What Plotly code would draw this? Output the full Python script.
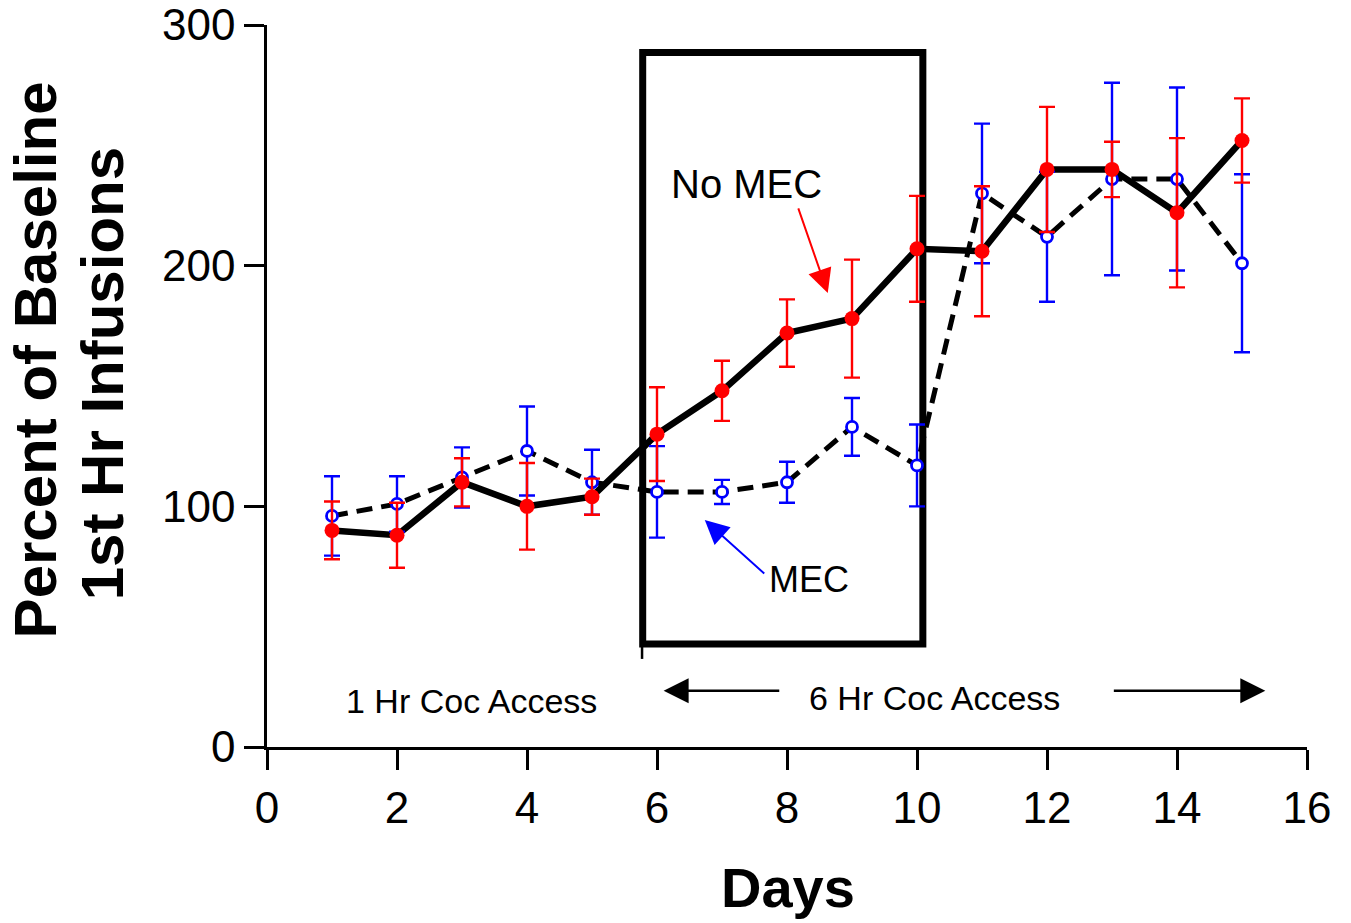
import plotly.graph_objects as go

days = list(range(1, 16))
no_mec = [90, 88, 110, 100, 104, 130, 148, 172, 178, 207, 206, 240, 240, 222, 252]
no_mec_err = [12, 13.5, 10, 18, 7.5, 19.5, 12.5, 14, 24.5, 22, 27, 26, 11.5, 31, 17.5]
mec = [96, 101, 112, 123, 110, 106, 106, 110, 133, 117, 230, 212, 236, 236, 201]
mec_err = [16.5, 11.5, 12.5, 18.5, 13.5, 19, 5, 8.5, 12, 17, 29, 27, 40, 38, 37]

x_ticks = [0, 2, 4, 6, 8, 10, 12, 14, 16]
y_ticks = [0, 100, 200, 300]

FONT = "Liberation Sans, Arial, Helvetica, sans-serif"

fig = go.Figure()

# black connecting lines
fig.add_trace(go.Scatter(x=days, y=mec, mode="lines",
                         line=dict(color="black", width=5, dash="16px,9px"),
                         showlegend=False, hoverinfo="skip", cliponaxis=False))
fig.add_trace(go.Scatter(x=days, y=no_mec, mode="lines",
                         line=dict(color="black", width=6.5),
                         showlegend=False, hoverinfo="skip", cliponaxis=False))

# MEC (blue open circles)
fig.add_trace(go.Scatter(x=days, y=mec, mode="markers", name="MEC",
                         marker=dict(symbol="circle", size=11, color="white",
                                     line=dict(color="#0000ff", width=2.8)),
                         error_y=dict(type="data", array=mec_err, visible=True,
                                      color="#0000ff", thickness=2.4, width=8),
                         showlegend=False, cliponaxis=False))
# No MEC (red filled circles)
fig.add_trace(go.Scatter(x=days, y=no_mec, mode="markers", name="No MEC",
                         marker=dict(symbol="circle", size=15, color="#ff0000",
                                     line=dict(width=0)),
                         error_y=dict(type="data", array=no_mec_err, visible=True,
                                      color="#ff0000", thickness=2.4, width=8),
                         showlegend=False, cliponaxis=False))

shapes = [
    dict(type="rect", xref="x", yref="y", x0=5.78, x1=10.09, y0=42.8, y1=288.6,
         line=dict(color="black", width=7), fillcolor="rgba(0,0,0,0)", layer="below"),
    dict(type="line", xref="x", yref="y", x0=5.77, x1=5.77, y0=42.8, y1=36.6,
         line=dict(color="black", width=2.5)),
]

# plot area in page pixels: x 267..1307.5, y 24.5..747 (body margin removed below)
W, H = 1351, 923
ML, MR, MT, MB = 267, 43.5, 24.5, 176
PW, PH = W - ML - MR, H - MT - MB
X0, Y0 = 267, 747

annotations = [
    # y axis title (two lines)
    dict(text="<b>Percent of Baseline</b>", xref="paper", yref="paper",
         x=(35 - X0) / PW, y=(Y0 - 360) / PH, xanchor="center", yanchor="middle",
         textangle=-90, showarrow=False, font=dict(family=FONT, size=60, color="black")),
    dict(text="<b>1st Hr Infusions</b>", xref="paper", yref="paper",
         x=(102 - X0) / PW, y=(Y0 - 374) / PH, xanchor="center", yanchor="middle",
         textangle=-90, showarrow=False, font=dict(family=FONT, size=60, color="black")),
    # x axis title
    dict(text="<b>Days</b>", xref="paper", yref="paper",
         x=(788 - X0) / PW, y=(Y0 - 888) / PH, xanchor="center", yanchor="middle",
         showarrow=False, font=dict(family=FONT, size=56, color="black")),
    # labels
    dict(text="No MEC", xref="x", yref="y", x=7.373, y=233.9, showarrow=False,
         xanchor="center", yanchor="middle", font=dict(family=FONT, size=40, color="black")),
    dict(text="MEC", xref="x", yref="y", x=8.335, y=69.4, showarrow=False,
         xanchor="center", yanchor="middle", font=dict(family=FONT, size=36, color="black")),
    dict(text="1 Hr Coc Access", xref="x", yref="y", x=3.145, y=19.3, showarrow=False,
         xanchor="center", yanchor="middle", font=dict(family=FONT, size=34, color="black")),
    dict(text="6 Hr Coc Access", xref="x", yref="y", x=10.272, y=20.4, showarrow=False,
         xanchor="center", yanchor="middle", font=dict(family=FONT, size=34, color="black")),
    # arrows
    dict(text="", xref="x", yref="y", axref="x", ayref="y",
         x=8.627, y=188.6, ax=8.166, ay=224.4, showarrow=True,
         arrowhead=2, arrowsize=2.4, arrowwidth=2, arrowcolor="#ff0000", standoff=0, startstandoff=0),
    dict(text="", xref="x", yref="y", axref="x", ayref="y",
         x=6.735, y=94.3, ax=7.673, ay=71.5, showarrow=True,
         arrowhead=2, arrowsize=2.4, arrowwidth=2, arrowcolor="#0000ff", standoff=0, startstandoff=0),
    dict(text="", xref="x", yref="y", axref="x", ayref="y",
         x=6.102, y=23.4, ax=7.904, ay=23.4, showarrow=True,
         arrowhead=2, arrowsize=2.0, arrowwidth=2.5, arrowcolor="black", standoff=0, startstandoff=0),
    dict(text="", xref="x", yref="y", axref="x", ayref="y",
         x=15.359, y=23.4, ax=13.005, ay=23.4, showarrow=True,
         arrowhead=2, arrowsize=2.0, arrowwidth=2.5, arrowcolor="black", standoff=0, startstandoff=0),
]

fig.update_layout(
    width=W, height=H,
    margin=dict(l=ML, r=MR, t=MT, b=MB),
    paper_bgcolor="white", plot_bgcolor="white",
    showlegend=False,
    shapes=shapes, annotations=annotations,
    font=dict(family=FONT, color="black"),
)
fig.update_xaxes(range=[0, 16], tickvals=x_ticks, ticktext=[str(v) for v in x_ticks],
                 showline=True, linecolor="black", linewidth=2.5,
                 ticks="outside", ticklen=20, tickwidth=2.5, tickcolor="black",
                 showgrid=False, zeroline=False, automargin=False,
                 ticklabeloverflow="allow",
                 tickfont=dict(family=FONT, size=44, color="black"))
fig.update_yaxes(range=[0, 300], tickvals=y_ticks, ticktext=[str(v) for v in y_ticks],
                 showline=True, linecolor="black", linewidth=2.5,
                 ticks="outside", ticklen=20, tickwidth=2.5, tickcolor="black",
                 showgrid=False, zeroline=False, automargin=False,
                 ticklabeloverflow="allow",
                 tickfont=dict(family=FONT, size=44, color="black"))

fig.write_html("out.html",
               config={"displayModeBar": False},
               post_script="document.body.style.margin='0';document.body.style.overflow='hidden';")
